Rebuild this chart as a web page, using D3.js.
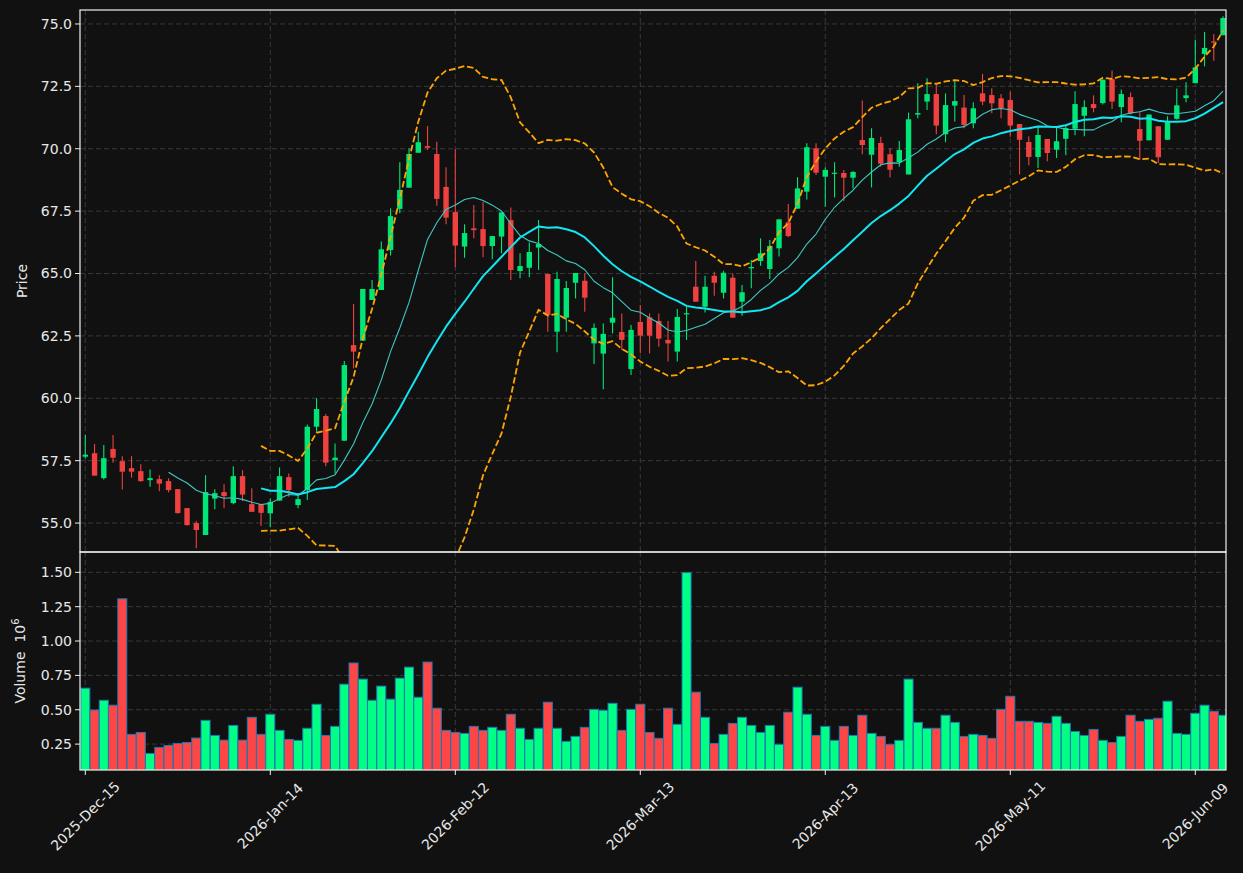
<!DOCTYPE html>
<html><head><meta charset="utf-8">
<script src="https://cdn.jsdelivr.net/npm/d3@7"></script>
<style>
body{margin:0;background:#111111;}
svg{display:block;font-family:"DejaVu Sans",sans-serif;}
</style>
</head><body>
<svg id="chart" width="1243" height="873"></svg>
<script>
// ---------- data ----------
const opens = [57.66,57.80,56.80,57.97,57.48,57.20,57.08,56.72,56.76,56.68,56.36,55.60,55.00,54.52,55.98,56.24,55.80,56.88,55.76,55.76,
55.39,55.90,56.84,55.72,56.32,58.86,59.29,57.52,58.30,62.13,62.31,63.94,64.34,65.94,67.59,68.44,69.84,70.11,69.79,68.47,
67.46,66.08,66.81,66.78,66.10,66.48,67.14,65.10,65.23,66.04,64.98,62.67,63.23,64.63,64.71,62.20,61.79,63.03,62.66,61.17,
63.06,63.24,63.10,62.34,61.87,63.37,64.47,63.67,64.91,64.23,64.83,63.87,65.21,65.50,65.18,66.01,67.05,67.60,68.28,70.02,
68.88,69.00,69.03,68.84,70.35,69.76,70.23,69.78,69.46,68.97,71.37,71.89,72.19,70.58,71.73,71.65,71.02,72.22,72.15,72.02,
71.95,70.99,70.27,69.67,70.39,69.96,70.40,70.80,71.32,71.79,71.83,72.79,71.67,72.07,70.79,70.34,70.90,70.36,71.20,72.03,
72.63,73.80,74.30,74.55];
const highs = [58.53,58.17,58.13,58.53,57.68,57.68,57.36,57.15,56.92,56.79,56.36,55.60,55.08,56.92,56.35,56.56,57.28,57.12,56.39,55.76,
55.98,57.23,56.99,56.19,58.95,60.00,59.37,58.19,61.49,63.78,64.38,64.74,66.28,67.61,69.46,70.02,70.68,70.91,70.28,69.26,
69.98,66.97,67.75,67.88,66.50,67.45,67.65,65.81,66.24,67.14,64.98,65.07,64.70,65.02,65.01,63.00,63.00,64.85,63.40,62.94,
63.74,63.40,63.40,63.10,63.58,63.67,65.50,64.91,65.07,65.11,65.00,64.54,65.54,66.41,66.34,67.17,67.79,68.86,70.22,70.22,
69.26,69.46,69.15,69.10,71.93,70.82,70.48,70.02,70.31,71.45,72.62,72.82,72.56,72.22,72.76,72.15,71.86,73.00,72.42,72.19,
72.29,70.99,70.50,70.90,70.39,70.90,70.96,72.30,71.94,72.14,72.77,73.14,72.37,72.26,71.46,71.37,70.90,71.30,72.41,72.66,
74.37,74.68,74.60,75.31];
const lows = [57.60,56.90,56.75,57.42,56.34,56.82,56.66,56.45,56.27,56.23,55.37,54.89,53.99,54.52,55.55,55.59,55.75,55.88,55.45,54.88,
54.83,55.90,56.05,55.59,55.92,58.66,57.28,56.99,58.30,61.20,62.31,63.94,64.34,65.72,67.41,68.44,69.84,69.95,67.72,66.97,
65.25,65.63,66.41,65.65,65.57,65.81,64.74,64.81,64.85,65.14,62.67,61.84,62.67,64.00,63.47,61.37,60.36,62.60,61.93,60.93,
61.80,61.80,62.07,61.47,61.47,62.34,63.87,63.44,64.11,64.00,63.23,63.31,64.41,65.31,64.78,65.68,66.45,67.60,67.97,68.95,
67.68,68.05,67.91,68.41,69.78,68.45,69.28,68.85,69.28,68.97,71.22,71.55,70.58,70.26,71.09,70.82,70.82,71.75,71.42,71.22,
70.48,68.97,69.34,69.23,69.50,69.63,69.74,70.54,70.50,71.46,71.77,71.59,71.06,71.37,69.56,70.34,69.43,70.36,71.17,71.86,
72.63,73.30,73.53,74.55];
const closes = [57.74,56.90,57.60,57.62,57.06,57.06,56.68,56.80,56.58,56.32,55.40,54.92,54.72,56.24,56.20,56.08,56.88,56.14,55.45,55.41,
55.85,56.88,56.32,55.96,58.86,59.57,57.42,57.62,61.33,61.87,64.38,64.38,65.97,67.30,68.35,69.79,70.26,70.04,67.99,67.24,
66.12,66.62,66.74,66.10,66.50,67.45,65.14,65.30,65.86,66.18,63.34,64.78,64.42,65.02,64.03,62.82,62.58,63.23,62.34,62.74,
62.51,62.51,62.39,62.20,63.26,63.41,63.87,64.47,64.63,65.03,63.23,64.25,65.26,65.81,66.10,67.17,66.50,68.41,70.06,69.04,
69.15,69.04,68.84,69.07,70.15,70.43,69.40,69.16,69.95,71.18,71.43,72.19,70.93,71.75,71.91,70.95,71.62,71.89,71.82,71.62,
70.93,70.36,69.67,70.55,69.83,70.30,70.83,71.79,71.67,71.63,72.77,71.89,72.19,71.41,70.32,71.37,69.66,71.06,71.74,72.14,
73.26,74.04,74.27,75.24];
const volumes = [0.657,0.498,0.569,0.533,1.307,0.321,0.335,0.182,0.226,0.240,0.255,0.262,0.294,0.423,0.313,0.279,0.386,0.279,0.445,0.321,
0.467,0.350,0.284,0.277,0.365,0.540,0.313,0.379,0.686,0.840,0.723,0.569,0.672,0.577,0.730,0.810,0.591,0.847,0.511,0.350,
0.335,0.328,0.379,0.350,0.372,0.350,0.467,0.365,0.284,0.365,0.555,0.365,0.270,0.306,0.372,0.503,0.496,0.547,0.350,0.503,
0.540,0.335,0.292,0.511,0.394,1.498,0.628,0.445,0.255,0.321,0.401,0.445,0.386,0.335,0.386,0.248,0.482,0.664,0.467,0.313,
0.379,0.277,0.379,0.313,0.460,0.328,0.306,0.248,0.277,0.723,0.408,0.365,0.365,0.460,0.408,0.306,0.321,0.313,0.292,0.503,
0.598,0.416,0.416,0.408,0.401,0.452,0.401,0.342,0.313,0.357,0.277,0.262,0.306,0.460,0.416,0.430,0.438,0.562,0.328,0.321,
0.474,0.533,0.489,0.460];
const tickIndex = [0,20,40,60,80,100,120];
const tickLabels = ["2025-Dec-15","2026-Jan-14","2026-Feb-12","2026-Mar-13","2026-Apr-13","2026-May-11","2026-Jun-09"];
const priceTicks = [55.0,57.5,60.0,62.5,65.0,67.5,70.0,72.5,75.0];
const volumeTicks = [0.25,0.50,0.75,1.00,1.25,1.50];
const maShort = 10, maLong = 20, bbStd = 2;

// ---------- layout ----------
const L = 80, R = 1226, pTop = 10, pBot = 552, vTop = 552, vBot = 770;
const n = closes.length;
const idx = d3.range(n);
const x = d3.scaleLinear().domain([-0.573, 123.32]).range([L, R]);
const step = x(1) - x(0);
const yP = d3.scaleLinear().domain([53.84, 75.56]).range([pBot, pTop]);
const yV = d3.scaleLinear().domain([0.0616, 1.6478]).range([vBot, vTop]);

const UP = "#00e676", DOWN = "#f04141";
const VUP = "#00ff85", VDOWN = "#ff4646";
const TXT = "#e8e8e8";

const svg = d3.select("#chart");
svg.append("rect").attr("width",1243).attr("height",873).attr("fill","#111111");
const defs = svg.append("defs");
defs.append("clipPath").attr("id","cp").append("rect").attr("x",L).attr("y",pTop).attr("width",R-L).attr("height",pBot-pTop);
defs.append("clipPath").attr("id","cv").append("rect").attr("x",L).attr("y",vTop).attr("width",R-L).attr("height",vBot-vTop);

// ---------- grids ----------
const grid = svg.append("g").attr("stroke","#3d3d3d").attr("stroke-width",0.9).attr("stroke-dasharray","5,3");
tickIndex.forEach(t=>{
  grid.append("line").attr("x1",x(t)).attr("x2",x(t)).attr("y1",pTop).attr("y2",pBot);
  grid.append("line").attr("x1",x(t)).attr("x2",x(t)).attr("y1",vTop).attr("y2",vBot);
});
priceTicks.forEach(v=>grid.append("line").attr("x1",L).attr("x2",R).attr("y1",yP(v)).attr("y2",yP(v)));
volumeTicks.forEach(v=>grid.append("line").attr("x1",L).attr("x2",R).attr("y1",yV(v)).attr("y2",yV(v)));

// ---------- indicators ----------
function sma(arr,p){return arr.map((d,i)=> i<p-1 ? null : d3.mean(arr.slice(i-p+1,i+1)));}
function sd(arr,p){return arr.map((d,i)=>{ if(i<p-1) return null; const s=arr.slice(i-p+1,i+1); const m=d3.mean(s); return Math.sqrt(d3.mean(s.map(v=>(v-m)*(v-m)))); });}
const ma10 = sma(closes, maShort);
const ma20 = sma(closes, maLong);
const sd20 = sd(closes, maLong);
const bbUp = ma20.map((m,i)=> m==null?null:m+bbStd*sd20[i]);
const bbLo = ma20.map((m,i)=> m==null?null:m-bbStd*sd20[i]);

// ---------- candles ----------
const pg = svg.append("g").attr("clip-path","url(#cp)");
const bw = 5.4;
idx.forEach(i=>{
  const up = closes[i] >= opens[i];
  const c = up ? UP : DOWN;
  pg.append("line").attr("x1",x(i)).attr("x2",x(i)).attr("y1",yP(highs[i])).attr("y2",yP(lows[i]))
    .attr("stroke",c).attr("stroke-width",1.1);
  const yt = yP(Math.max(opens[i],closes[i])), yb = yP(Math.min(opens[i],closes[i]));
  pg.append("rect").attr("x",x(i)-bw/2).attr("y",yt).attr("width",bw).attr("height",Math.max(1.2,yb-yt)).attr("fill",c);
});

// ---------- lines ----------
function drawLine(arr, color, w, dash){
  const gen = d3.line().defined(d=>arr[d]!=null).x(d=>x(d)).y(d=>yP(arr[d]));
  const p = pg.append("path").datum(idx).attr("d",gen).attr("fill","none").attr("stroke",color).attr("stroke-width",w)
    .attr("stroke-linejoin","round");
  if(dash) p.attr("stroke-dasharray",dash);
}
drawLine(bbUp, "#ffa500", 1.8, "6.5,2.8");
drawLine(bbLo, "#ffa500", 1.8, "6.5,2.8");
drawLine(ma10, "#3ec9c4", 1.1);
drawLine(ma20, "#12e6f2", 2.0);

// ---------- volume ----------
const vg = svg.append("g").attr("clip-path","url(#cv)");
idx.forEach(i=>{
  const up = closes[i] >= opens[i];
  vg.append("rect").attr("x",x(i)-step*0.49).attr("width",step*0.98)
    .attr("y",yV(volumes[i])).attr("height",yV(0)-yV(volumes[i]))
    .attr("fill", up?VUP:VDOWN).attr("stroke","#1f77b4").attr("stroke-width",1);
});

// ---------- frames ----------
const fr = svg.append("g").attr("fill","none").attr("stroke","#f0f0f0").attr("stroke-width",1.2);
fr.append("rect").attr("x",L).attr("y",pTop).attr("width",R-L).attr("height",pBot-pTop);
fr.append("rect").attr("x",L).attr("y",vTop).attr("width",R-L).attr("height",vBot-vTop);

// ---------- axes ticks & labels ----------
const ax = svg.append("g").attr("font-size",14).attr("fill",TXT);
priceTicks.forEach(v=>{
  ax.append("line").attr("x1",L-5).attr("x2",L).attr("y1",yP(v)).attr("y2",yP(v)).attr("stroke","#f0f0f0").attr("stroke-width",1);
  ax.append("text").attr("x",L-8).attr("y",yP(v)).attr("dy","0.35em").attr("text-anchor","end").text(v.toFixed(1));
});
volumeTicks.forEach(v=>{
  ax.append("line").attr("x1",L-5).attr("x2",L).attr("y1",yV(v)).attr("y2",yV(v)).attr("stroke","#f0f0f0").attr("stroke-width",1);
  ax.append("text").attr("x",L-8).attr("y",yV(v)).attr("dy","0.35em").attr("text-anchor","end").text(v.toFixed(2));
});
tickIndex.forEach((t,k)=>{
  const tx = x(t);
  ax.append("line").attr("x1",tx).attr("x2",tx).attr("y1",vBot).attr("y2",vBot+5).attr("stroke","#f0f0f0").attr("stroke-width",1);
  const cy = 816;
  ax.append("text").attr("x",tx).attr("y",cy).attr("dy","0.35em").attr("text-anchor","middle")
    .attr("transform",`rotate(-45,${tx},${cy})`).text(tickLabels[k]);
});
ax.append("text").attr("transform",`translate(22,${(pTop+pBot)/2}) rotate(-90)`).attr("text-anchor","middle")
  .attr("dy","0.35em").text("Price");
const vl = ax.append("text").attr("transform",`translate(20,${(vTop+vBot)/2}) rotate(-90)`).attr("text-anchor","middle")
  .attr("dy","0.35em").attr("xml:space","preserve").style("white-space","pre");
vl.append("tspan").text("Volume\u00a0\u00a010");
vl.append("tspan").attr("font-size",10).attr("dy","-0.6em").text("6");
</script>
</body></html>
